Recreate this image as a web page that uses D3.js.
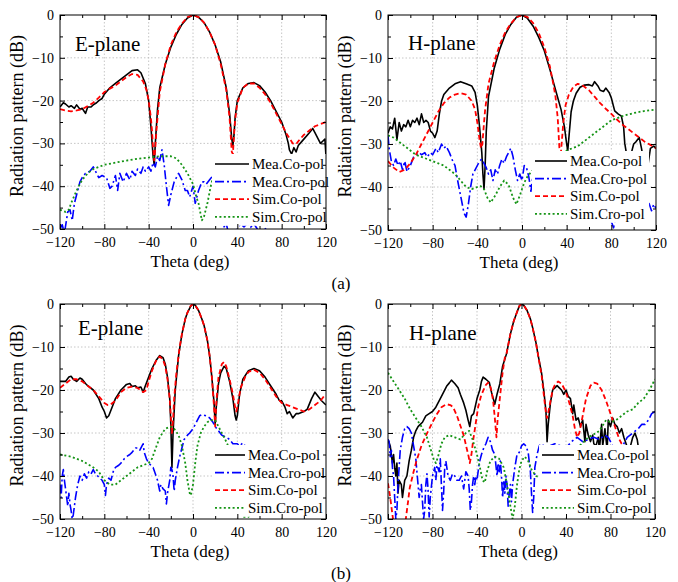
<!doctype html>
<html>
<head>
<meta charset="utf-8">
<title>Radiation patterns</title>
<script src="https://cdnjs.cloudflare.com/ajax/libs/d3/7.8.5/d3.min.js"></script>
<style>
  body { margin: 0; background: #fff; }
  svg text { font-family: "Liberation Serif", "Tinos", "Times New Roman", "DejaVu Serif", serif; }
</style>
</head>
<body>
<svg width="678" height="582"></svg>
<script>
// ---- data: [theta (deg), level (dB)] ----
// (a) E-plane
var aE_meaCo = [[-120,-21.5],[-117,-20.5],[-115,-20.8],[-112,-21.5],[-110,-21.2],[-107,-21.8],[-105,-21],[-102,-22],[-100,-21.8],[-97,-23],[-95,-21.5],[-92,-21.5],[-90,-21],[-87,-20.5],[-85,-20],[-82,-19.5],[-80,-18.5],[-75,-17],[-70,-16],[-65,-15],[-60,-14],[-55,-13],[-50,-12.8],[-47,-13.5],[-43,-16],[-40,-20],[-38,-26],[-36,-33],[-35,-35],[-34,-30],[-32,-22],[-30,-17],[-25,-11.5],[-20,-7.5],[-15,-4.5],[-10,-2.2],[-5,-0.7],[0,0],[5,-0.5],[10,-1.8],[15,-4],[20,-7],[25,-11],[30,-17],[33,-23],[35,-29],[36,-30.5],[37,-28],[38,-24],[40,-20],[45,-17],[50,-16],[55,-15.8],[60,-16.5],[65,-18],[70,-20],[75,-22.5],[80,-25],[84,-28],[86,-30],[87,-31.5],[89,-32.5],[91,-31],[93,-32],[95,-30.5],[100,-29],[105,-27.5],[108,-26.5],[110,-27.5],[113,-29],[115,-30],[117,-29.5],[119,-29],[120,-33]];
var aE_meaCro = [[-120,-50],[-118,-49],[-116,-51],[-113,-46],[-111,-45.5],[-109,-48],[-107,-44],[-105,-42],[-102,-39],[-100,-38],[-97,-37],[-93,-36.5],[-90,-35.5],[-88,-36.5],[-85,-38],[-82,-37.5],[-78,-38],[-75,-40.5],[-73,-40],[-70,-37.5],[-68,-41],[-66,-37],[-63,-39],[-60,-37],[-57,-38.5],[-55,-36.5],[-52,-37.5],[-50,-36],[-47,-37],[-45,-35.5],[-43,-36.5],[-40,-35.5],[-38,-36.5],[-36,-34.5],[-34,-35.5],[-32,-33],[-30,-34],[-28,-31.5],[-26,-35],[-24,-40],[-22,-44.5],[-20,-42],[-17,-39],[-13,-37],[-10,-38.5],[-7,-41],[-5,-41],[-3,-42.5],[0,-40],[2,-44],[5,-41],[8,-39],[10,-39],[12,-39.5],[15,-38.5],[18,-37.5],[20,-40],[23,-44],[26,-48.8],[28,-49.5],[30,-48.7],[32,-51],[36,-52],[40,-50],[43,-48.8],[46,-49.5],[49,-48.7],[52,-49.6],[55,-48.8],[58,-50],[62,-52],[70,-47],[80,-45],[90,-43],[100,-42],[110,-41],[116,-40],[118,-42],[120,-40]];
var aE_simCo = [[-120,-22],[-115,-22.3],[-110,-22.5],[-105,-22.3],[-100,-22],[-95,-21.3],[-90,-20.5],[-85,-19.3],[-80,-18],[-75,-17.2],[-70,-16.5],[-65,-15.5],[-60,-14.5],[-55,-13.8],[-50,-14],[-45,-15.5],[-42,-17.5],[-40,-20],[-38,-24],[-37,-27],[-36,-31],[-35,-34],[-34,-31],[-33,-27],[-31,-21],[-30,-18],[-25,-11.5],[-20,-7],[-15,-4],[-10,-2],[-5,-0.5],[0,0],[5,-0.5],[10,-1.8],[15,-4],[20,-7],[25,-11.5],[30,-17.5],[33,-24],[35,-32],[36,-32.5],[37,-28],[38,-24.5],[40,-20.5],[45,-17],[50,-16],[55,-16],[60,-17],[65,-18.5],[70,-20.5],[75,-23],[80,-25.5],[85,-28],[90,-30],[93,-30.2],[95,-29.5],[100,-28],[105,-27],[110,-26],[115,-25.5],[120,-25]];
var aE_simCro = [[-120,-45.5],[-115,-46],[-112,-45.5],[-110,-44],[-105,-41],[-100,-38.5],[-95,-37],[-90,-36],[-85,-35.5],[-80,-35],[-70,-34.5],[-60,-34],[-50,-33.6],[-40,-33.3],[-30,-33],[-20,-33],[-15,-33.5],[-10,-35],[-5,-37],[0,-39.5],[3,-42.5],[5,-44],[8,-48],[10,-47],[13,-44],[16,-40],[18,-38],[20,-36.5],[25,-35],[35,-34],[50,-34.5],[65,-36],[80,-39],[95,-42],[110,-44],[115,-44.5]];

// (a) H-plane
var aH_meaCo = [[-120,-27.5],[-118,-26],[-116,-26.5],[-114,-24],[-112,-29],[-110,-25],[-108,-27],[-106,-25.5],[-104,-26],[-102,-24.5],[-100,-26],[-98,-24.5],[-96,-25],[-94,-24],[-92,-25.5],[-90,-23],[-88,-25],[-86,-24.5],[-84,-25],[-82,-27],[-80,-27.5],[-78,-28.5],[-76,-27],[-74,-23],[-72,-20],[-70,-18.5],[-65,-17],[-60,-16],[-55,-15.5],[-50,-16],[-45,-16.5],[-42,-18],[-40,-21],[-38,-26],[-36,-32],[-35,-37],[-34,-40.5],[-33,-35],[-32,-27],[-30,-19],[-25,-12.5],[-20,-8],[-15,-4.5],[-10,-2.2],[-5,-0.5],[0,0],[5,-0.8],[10,-2.6],[15,-5.2],[20,-8.3],[25,-12.7],[30,-17.4],[35,-22],[38,-26],[40,-30],[41,-31.5],[42,-28.5],[44,-22.5],[46,-20],[48.5,-18.2],[52,-16.8],[56,-16.3],[60,-16.2],[63,-16.5],[65,-15.5],[68,-16.5],[70,-17.5],[73,-17.8],[75,-17],[78,-18],[80,-19.3],[83,-22.3],[86,-23],[89,-23.5],[91,-26],[92,-29.8],[94,-33],[96,-34],[98,-32],[100,-30],[102,-29.5],[105,-28.5],[107,-31],[109,-34],[111,-35],[113,-34.5],[115,-31],[118,-30.5],[120,-31]];
var aH_meaCro = [[-120,-28],[-119,-31],[-117,-34],[-115,-35],[-113,-33.5],[-111,-35],[-109,-34],[-107,-36],[-105,-34],[-103,-36.4],[-100,-35],[-97,-33],[-95,-32.5],[-92,-32],[-90,-32.5],[-87,-32],[-85,-33],[-82,-32],[-80,-32.5],[-77,-31],[-75,-32],[-72,-30],[-70,-31],[-68,-30.5],[-65,-32],[-62,-34],[-60,-35],[-58,-38],[-55,-42],[-52,-46],[-50,-47],[-48,-44],[-46,-40],[-44,-37],[-42,-36],[-40,-35],[-38,-34],[-36,-33.5],[-34,-34.5],[-32,-35.5],[-30,-37],[-28,-36],[-26,-38.5],[-24,-36],[-22,-37],[-20,-35],[-18,-33.5],[-16,-34.5],[-14,-33],[-12,-32],[-10,-31],[-8,-33],[-6,-36],[-4,-38.5],[-2,-37],[0,-38.5],[2,-35],[4,-35.5],[6,-37.5],[8,-41],[10,-37],[12,-36],[15,-38],[20,-40],[30,-42],[40,-40],[50,-43],[60,-42],[70,-44],[78,-46],[80,-48],[82,-49.5],[84,-47],[90,-44],[100,-42],[108,-41.5],[110,-41.5],[112,-42.5],[114,-44],[116,-45.5],[118,-44],[120,-45]];
var aH_simCo = [[-120,-34],[-115,-35.5],[-110,-36.5],[-105,-36],[-100,-34.5],[-95,-32.5],[-90,-30],[-85,-27.5],[-80,-25],[-75,-22.5],[-70,-20.5],[-65,-19.2],[-60,-18.5],[-55,-18.2],[-50,-18.5],[-45,-20],[-42,-22],[-40,-25],[-38,-29],[-36.7,-31],[-35.5,-30],[-34,-25],[-33,-22],[-30,-16],[-25,-11],[-20,-7],[-15,-4],[-10,-2],[-5,-0.5],[0,0],[5,-0.5],[10,-1.9],[15,-4.2],[20,-7.5],[25,-12],[28,-16],[30,-19],[32,-24],[33.5,-31],[34.5,-33],[35.5,-30],[37,-25],[39,-21],[42,-18.5],[46,-16.7],[50,-16],[55,-16.5],[60,-17.5],[65,-19],[70,-20.5],[75,-21.8],[80,-23],[85,-24.3],[90,-25.5],[95,-26.5],[100,-27.5],[105,-28.5],[110,-29.5],[115,-30.2],[120,-31]];
var aH_simCro = [[-120,-28],[-115,-28.5],[-110,-29.5],[-105,-30.5],[-100,-31.5],[-95,-32.5],[-90,-33],[-85,-33.5],[-80,-34],[-75,-34.5],[-70,-35],[-65,-36],[-60,-37],[-55,-38.5],[-50,-40],[-45,-40.5],[-40,-40],[-37,-39.8],[-34,-40.5],[-31,-42.5],[-28,-43.6],[-24,-42],[-20,-40],[-16,-38.5],[-12,-39.5],[-8,-42.5],[-5,-44],[-2,-42],[2,-39],[5,-37.5],[10,-36],[15,-35.5],[20,-34.8],[25,-34],[30,-33.2],[35,-32.3],[40,-31.5],[45,-31],[50,-30.5],[55,-29.5],[60,-28.5],[65,-27.5],[70,-26.5],[75,-25.5],[80,-24.5],[85,-24],[90,-23.5],[100,-22.8],[110,-22.3],[120,-22]];

// (b) E-plane
var bE_meaCo = [[-120,-18],[-115,-18],[-112,-17],[-110,-16.8],[-108,-17.5],[-105,-18],[-102,-17.2],[-100,-17.5],[-97,-18.5],[-95,-19],[-90,-20],[-85,-22],[-82,-24],[-80,-25],[-78,-26.5],[-76,-26],[-73,-24],[-70,-22],[-65,-20],[-60,-18.7],[-57,-18.5],[-55,-19.2],[-52,-19],[-50,-19.5],[-47,-19.3],[-45,-20.5],[-43,-19],[-40,-17],[-37,-15],[-33,-13],[-30,-12],[-27,-12.5],[-25,-14],[-23,-17],[-21,-22],[-20,-28],[-19,-38],[-18,-30],[-16,-20],[-13,-12],[-10,-7],[-7,-3.5],[-5,-2],[-2,-0.5],[0,0],[2,-0.3],[5,-1.5],[8,-3.5],[10,-5],[13,-8.5],[15,-12],[17,-17],[19,-23],[20,-28],[21,-24],[23,-18.5],[25,-16],[28,-14.5],[30,-15],[33,-18],[36,-22],[38,-26],[39,-27],[40,-26],[42,-21],[45,-17.5],[50,-15.5],[55,-15],[60,-15.5],[65,-17],[70,-19],[75,-21],[78,-22.5],[80,-22.5],[83,-24],[85,-25.5],[87,-25],[90,-26.5],[93,-25.5],[95,-25.5],[100,-25],[103,-24.5],[107,-22],[110,-20.5],[113,-21.5],[116,-22.5],[120,-23.5]];
var bE_meaCro = [[-120,-42],[-119,-45],[-118,-40],[-117,-38.5],[-116,-41],[-114,-45],[-113,-47],[-112,-44],[-111,-46.5],[-110,-48],[-109,-50],[-108,-49],[-106,-45],[-104,-42],[-102,-40],[-100,-41],[-98,-39.5],[-96,-40.5],[-94,-39],[-92,-39.5],[-90,-38.5],[-88,-39.5],[-86,-40],[-84,-40.5],[-82,-41],[-80,-42],[-79,-44.5],[-78,-42],[-76,-40.5],[-74,-41],[-72,-39],[-70,-38],[-67,-37.5],[-65,-37],[-62,-36],[-60,-35.5],[-57,-35],[-55,-34.5],[-52,-33.5],[-50,-33.5],[-48,-34],[-46,-33],[-45,-32.5],[-44,-34.5],[-42,-36],[-40,-37],[-38,-37.5],[-36,-38],[-34,-39.5],[-32,-41],[-30,-43.5],[-29,-42],[-27,-43],[-25,-43.5],[-24,-46.5],[-23,-44],[-21,-41],[-20,-38],[-19,-38.5],[-18,-40],[-17,-43.5],[-16,-41],[-14,-38],[-12,-35.5],[-10,-33.5],[-8,-31.5],[-5,-30.5],[-3,-30],[0,-29],[3,-27.5],[6,-26],[8,-25.7],[12,-26],[15,-26.5],[18,-27.5],[20,-28.5],[23,-29.5],[26,-30.5],[30,-31],[33,-31.5],[36,-32.5],[40,-32.5],[42,-33],[45,-32.3],[50,-34],[60,-36],[70,-37],[80,-38],[90,-38],[100,-37],[110,-38],[118,-39],[120,-38.5]];
var bE_simCo = [[-120,-19.5],[-115,-18.5],[-110,-17.5],[-105,-17.5],[-100,-18],[-95,-19],[-90,-20],[-85,-21.5],[-80,-23],[-77,-23.5],[-75,-23.5],[-70,-22.5],[-65,-20.5],[-60,-19.5],[-55,-19.2],[-50,-19.5],[-45,-20.5],[-42,-20],[-40,-18],[-37,-15.5],[-33,-13],[-30,-12.2],[-27,-13],[-25,-14.5],[-23,-17.5],[-21,-22],[-20,-26],[-19,-30],[-18,-27],[-17,-22],[-15,-16],[-12,-10],[-10,-7],[-7,-3.5],[-5,-2],[-2,-0.4],[0,0],[2,-0.3],[5,-1.5],[8,-3.5],[10,-5],[13,-8.5],[15,-12],[17,-17],[19,-24],[20,-28.5],[21,-23],[23,-17],[26,-14],[28,-13.5],[30,-14.5],[33,-17.5],[36,-21],[38,-24],[39,-25],[40,-24],[43,-19.5],[47,-17],[50,-15.8],[55,-15.3],[60,-16],[65,-17.5],[70,-19.5],[75,-21.5],[80,-23],[85,-23.5],[90,-24],[95,-24.5],[100,-25],[105,-24.5],[110,-23.5],[115,-22.5],[118,-21.5],[120,-22]];
var bE_simCro = [[-120,-35],[-110,-35.5],[-100,-36.5],[-90,-38],[-85,-39],[-80,-41],[-75,-42],[-70,-42],[-65,-41],[-60,-40],[-55,-39],[-50,-38],[-45,-37.5],[-40,-37],[-37,-36],[-35,-34.5],[-30,-31],[-25,-29],[-20,-28.5],[-17,-29],[-13,-30.5],[-10,-33],[-7,-37],[-5,-41],[-3,-44],[-2,-44.5],[0,-42],[2,-37],[4,-33],[7,-30],[10,-28.5],[13,-27.5],[16,-27],[20,-27],[22,-28],[25,-29.5],[28,-31],[30,-32],[35,-35],[40,-40],[43,-45],[46,-49.5],[50,-49.5],[55,-48.5],[62,-47],[70,-46],[80,-45],[90,-44.5],[100,-44],[110,-43.5],[120,-43]];

// (b) H-plane
var bH_meaCo = [[-120,-31.5],[-118,-33],[-116,-37],[-115,-35],[-114,-38],[-113,-40],[-112,-37],[-111,-44],[-110,-41],[-108,-42],[-107,-45],[-105,-41],[-103,-40],[-101,-36.5],[-99,-34],[-97,-31],[-95,-29.5],[-93,-28.5],[-91,-28],[-89,-27.5],[-86,-26],[-83,-25.5],[-80,-25],[-77,-24],[-73,-22],[-70,-20.5],[-67,-19],[-65,-18.4],[-63,-17.7],[-60,-18.5],[-57,-19.5],[-55,-21],[-52,-23],[-50,-24.7],[-48,-27],[-46.5,-28.5],[-45,-26],[-43,-25.5],[-40,-22],[-37.5,-20],[-36,-18],[-34.5,-17],[-32,-17.5],[-29,-18.2],[-27,-20.5],[-24,-23.3],[-22,-21],[-19.5,-18.6],[-17,-14.5],[-13.5,-11.6],[-10,-7],[-7,-4],[-4.5,-2.2],[-2,-0.5],[0,0],[2,-0.3],[5,-1.5],[8,-3.5],[10,-5.5],[13,-9],[15,-12],[18,-16],[20,-20],[22,-25],[23,-32],[24,-28],[26,-23],[28,-20],[30,-19.5],[32,-19],[34,-19.5],[36,-20],[38,-21],[40,-20],[42,-21.5],[44,-22],[46,-25.5],[47,-23.5],[49,-27],[51,-26.5],[53,-28.5],[55,-27],[57,-32],[58,-28],[60,-30.5],[62,-32],[64,-30.5],[65,-32.5],[67,-33],[69,-31],[70,-34],[72,-28],[73,-33],[75,-29],[77,-34],[78,-27],[80,-28.5],[82,-26.5],[84,-28],[86,-28.5],[88,-30],[90,-29],[92,-31],[94,-32.5],[96,-34],[98,-33],[100,-31],[102,-30],[104,-31.5],[106,-35],[110,-38],[115,-40],[118,-38],[120,-36]];
var bH_meaCro = [[-120,-31.5],[-119,-32],[-118,-35.5],[-117,-34],[-116,-38],[-115,-40],[-114,-45],[-113,-50],[-112,-48],[-111,-42],[-110,-38],[-109,-34],[-107,-31],[-105,-29],[-103,-28.5],[-101,-29],[-99,-30],[-97,-33],[-95,-36],[-93,-42],[-92,-45],[-91,-43],[-90,-42],[-89,-46],[-88,-50],[-87,-48],[-86,-42],[-85,-39.5],[-84,-43],[-83,-49.5],[-82,-45],[-80,-40],[-78,-38],[-77,-41],[-76,-37.5],[-74,-39],[-73,-36],[-72,-42],[-71,-48],[-70,-44],[-69,-38],[-68,-36.5],[-66,-40],[-64,-41],[-62,-39.5],[-60,-40],[-58,-41],[-56,-41],[-54,-40],[-52,-43],[-50,-39],[-48,-40],[-47,-43],[-46,-48],[-45,-46],[-44,-42],[-43,-40],[-42,-42],[-41,-40],[-40,-41],[-38,-37],[-36,-35],[-34,-33.5],[-32,-32.5],[-30,-31],[-28,-32],[-26,-34],[-24,-35],[-22,-40],[-21,-37],[-20,-39],[-19,-36.5],[-18,-40],[-17,-45],[-16,-41],[-15,-44],[-14,-40],[-13,-42],[-12,-47],[-11,-44],[-10,-42],[-9,-46],[-8,-42],[-6,-38],[-4,-35],[-2,-34.5],[0,-33],[2,-32.5],[4,-33],[6,-34.5],[8,-39],[9,-44],[10,-48.5],[11,-45],[12,-38],[14,-35],[16,-33],[18,-32.5],[20,-33],[25,-33],[30,-32.5],[35,-33],[40,-33.5],[45,-32],[50,-31],[55,-32],[60,-31.5],[65,-31],[70,-31.5],[75,-30.5],[78,-31],[82,-33],[85,-34],[90,-33.5],[95,-31],[100,-30],[105,-29],[108,-28],[111,-28],[114,-27],[117,-25.5],[120,-25]];
var bH_simCo = [[-120,-41.7],[-118,-45],[-116,-49],[-114,-53],[-110,-58],[-106,-54],[-104,-50],[-102,-46],[-100.5,-42.8],[-97,-39],[-94.5,-36.6],[-90,-33],[-85.5,-30.4],[-80,-27.5],[-76.5,-25.8],[-72,-24],[-67.5,-23.3],[-64,-23.5],[-61.5,-24],[-58,-26],[-55.5,-27.9],[-52,-30.5],[-49.5,-33.3],[-47.5,-35.5],[-46.5,-37],[-45,-35],[-43.5,-31.8],[-41,-27.5],[-39,-24],[-36.5,-21.5],[-34.5,-20.2],[-32,-18.8],[-30,-18.3],[-28.5,-18.8],[-27,-20.2],[-25.5,-22.5],[-24,-26.5],[-23,-29.5],[-22.5,-31],[-21.5,-27],[-19.5,-22],[-17,-16],[-15,-12.5],[-13.5,-11.6],[-10,-7],[-7,-4],[-4.5,-2.2],[-2,-0.5],[0,0],[2,-0.3],[5,-1.5],[8,-3.5],[10,-5.5],[13,-9],[15,-12],[18,-16.5],[20,-21],[22,-25.5],[23,-26.5],[25,-24],[28,-20],[30,-18.8],[33,-18],[36,-18.5],[40,-20.5],[43,-23],[46,-26],[48,-29],[50,-31],[52,-30],[55,-26],[58,-22],[62,-19],[65,-18.3],[68,-18.5],[72,-20],[76,-22.5],[80,-25.5],[84,-28.5],[88,-31.5],[90,-32.5],[95,-34],[100,-35],[105,-35],[110,-34],[115,-33.5],[120,-35]];
var bH_simCro = [[-120,-16],[-115,-18],[-110,-20],[-105,-22],[-100,-24.5],[-95,-26.5],[-90,-28.5],[-85,-31],[-82,-33.5],[-79,-36],[-77,-37],[-75,-35.5],[-72,-32.5],[-69,-31],[-65,-30.5],[-60,-31],[-55,-31.5],[-50,-30],[-47,-29.5],[-44,-31.5],[-40,-35],[-37,-38.5],[-35,-41],[-33,-41.5],[-31,-39],[-28,-36.5],[-24,-35.5],[-20,-36],[-16,-38],[-13,-42],[-10,-47],[-8,-50],[-6,-47],[-4,-42],[-2,-38.5],[0,-36.5],[3,-35.5],[6,-36.5],[9,-38.5],[13,-40],[18,-40.5],[25,-38],[35,-36],[45,-34],[50,-33.5],[55,-32.3],[60,-31],[65,-30.3],[70,-29.5],[76,-27],[80,-27.5],[85,-27],[90,-26],[95,-25],[100,-24.5],[105,-23],[110,-22],[115,-20],[120,-17.5]];

var seriesNames = ["Mea.Co-pol", "Mea.Cro-pol", "Sim.Co-pol", "Sim.Cro-pol"];
var xTicks = [-120, -80, -40, 0, 40, 80, 120];
var yTicks = [0, -10, -20, -30, -40, -50];

var styles = [
  { color: "#000000", dash: null,      w: 1.6 },
  { color: "#0000ff", dash: "9,3,2,3", w: 1.6 },
  { color: "#ff0000", dash: "5,3",     w: 1.8 },
  { color: "#159415", dash: "2,2.4",   w: 1.8 }
];

var panels = [
  { id: "aE", title: "E-plane", x0: 60,  x1: 326, y0: 15,  y1: 229, tx: 75,  ty: 51,
    data: [aE_meaCo, aE_meaCro, aE_simCo, aE_simCro], lx: 215, ly: 164, ltx: 252 },
  { id: "aH", title: "H-plane", x0: 388, x1: 656, y0: 15,  y1: 230, tx: 408, ty: 50,
    data: [aH_meaCo, aH_meaCro, aH_simCo, aH_simCro], lx: 535, ly: 161, ltx: 570 },
  { id: "bE", title: "E-plane", x0: 60,  x1: 326, y0: 304, y1: 519, tx: 78,  ty: 335,
    data: [bE_meaCo, bE_meaCro, bE_simCo, bE_simCro], lx: 215, ly: 455, ltx: 248 },
  { id: "bH", title: "H-plane", x0: 388, x1: 655, y0: 304, y1: 519, tx: 409, ty: 340,
    data: [bH_meaCo, bH_meaCro, bH_simCo, bH_simCro], lx: 542, ly: 455, ltx: 577 }
];

var FONT = "'Liberation Serif', Tinos, 'Times New Roman', 'DejaVu Serif', serif";
var svg = d3.select("svg").attr("font-family", FONT);
var rowGap = 17.6;

panels.forEach(function(p) {
  var x = d3.scaleLinear().domain([-120, 120]).range([p.x0, p.x1]);
  var y = d3.scaleLinear().domain([-50, 0]).range([p.y1, p.y0]);
  var g = svg.append("g");

  // grid
  g.selectAll(".gx").data([-80, -40, 0, 40, 80]).enter().append("line")
    .attr("x1", d => x(d)).attr("x2", d => x(d))
    .attr("y1", p.y0).attr("y2", p.y1)
    .attr("stroke", "#b8b8b8").attr("stroke-width", 0.8).attr("stroke-dasharray", "1.5,2");
  g.selectAll(".gy").data([-10, -20, -30, -40]).enter().append("line")
    .attr("y1", d => y(d)).attr("y2", d => y(d))
    .attr("x1", p.x0).attr("x2", p.x1)
    .attr("stroke", "#b8b8b8").attr("stroke-width", 0.8).attr("stroke-dasharray", "1.5,2");

  // curves
  svg.append("clipPath").attr("id", "clip-" + p.id)
    .append("rect").attr("x", p.x0).attr("y", p.y0)
    .attr("width", p.x1 - p.x0).attr("height", p.y1 - p.y0);

  var line = d3.line().x(d => x(d[0])).y(d => y(d[1]));
  var cg = g.append("g").attr("clip-path", "url(#clip-" + p.id + ")");
  p.data.forEach(function(s, i) {
    cg.append("path").datum(s)
      .attr("d", line)
      .attr("fill", "none")
      .attr("stroke", styles[i].color)
      .attr("stroke-width", styles[i].w)
      .attr("stroke-dasharray", styles[i].dash)
      .attr("stroke-linejoin", "round");
  });

  // legend
  var lg = g.append("g");
  var box = lg.append("rect").attr("fill", "#fff");
  var maxEnd = 0;
  seriesNames.forEach(function(name, i) {
    var yy = p.ly + i * rowGap;
    lg.append("line")
      .attr("x1", p.lx).attr("x2", p.ltx - 3)
      .attr("y1", yy).attr("y2", yy)
      .attr("stroke", styles[i].color)
      .attr("stroke-width", styles[i].w)
      .attr("stroke-dasharray", styles[i].dash);
    var t = lg.append("text")
      .attr("x", p.ltx).attr("y", yy).attr("dy", "0.35em")
      .attr("font-size", 15).text(name);
    maxEnd = Math.max(maxEnd, p.ltx + t.node().getComputedTextLength());
  });
  box.attr("x", p.lx - 3).attr("y", p.ly - 10)
    .attr("width", maxEnd + 2 - (p.lx - 3))
    .attr("height", 3 * rowGap + 19);

  // axes
  var ax = [
    d3.axisBottom(x).tickValues(xTicks).tickSize(-5).tickPadding(8),
    d3.axisTop(x).tickValues(xTicks).tickSize(-5).tickFormat(""),
    d3.axisLeft(y).tickValues(yTicks).tickSize(-5).tickPadding(6),
    d3.axisRight(y).tickValues(yTicks).tickSize(-5).tickFormat("")
  ];
  var minor = [
    d3.axisBottom(x).tickValues(d3.range(-100, 120, 40)).tickSize(-3).tickFormat(""),
    d3.axisTop(x).tickValues(d3.range(-100, 120, 40)).tickSize(-3).tickFormat(""),
    d3.axisLeft(y).tickValues(d3.range(-45, 0, 10)).tickSize(-3).tickFormat(""),
    d3.axisRight(y).tickValues(d3.range(-45, 0, 10)).tickSize(-3).tickFormat("")
  ];
  var pos = ["translate(0," + p.y1 + ")", "translate(0," + p.y0 + ")",
             "translate(" + p.x0 + ",0)", "translate(" + p.x1 + ",0)"];
  [ax, minor].forEach(function(list) {
    list.forEach(function(a, k) {
      var ag = g.append("g").attr("transform", pos[k]).call(a)
        .attr("font-family", FONT).attr("font-size", 14);
      ag.select(".domain").remove();
      ag.selectAll("text").attr("fill", "#000");
      ag.selectAll("line").attr("stroke", "#000");
    });
  });

  g.append("rect").attr("x", p.x0).attr("y", p.y0)
    .attr("width", p.x1 - p.x0).attr("height", p.y1 - p.y0)
    .attr("fill", "none").attr("stroke", "#000").attr("stroke-width", 1);

  // labels
  g.append("text").attr("x", p.tx).attr("y", p.ty).attr("font-size", 21).text(p.title);
  g.append("text").attr("x", (p.x0 + p.x1) / 2 - 3).attr("y", p.y1 + 38)
    .attr("text-anchor", "middle").attr("font-size", 17).text("Theta (deg)");
  g.append("text")
    .attr("transform", "translate(" + (p.x0 - 37) + "," + ((p.y0 + p.y1) / 2 - 6) + ") rotate(-90)")
    .attr("text-anchor", "middle").attr("font-size", 18).text("Radiation pattern (dB)");
});

svg.append("text").attr("x", 341).attr("y", 289).attr("text-anchor", "middle")
  .attr("font-size", 17).text("(a)");
svg.append("text").attr("x", 341).attr("y", 579).attr("text-anchor", "middle")
  .attr("font-size", 17).text("(b)");
</script>
</body>
</html>
